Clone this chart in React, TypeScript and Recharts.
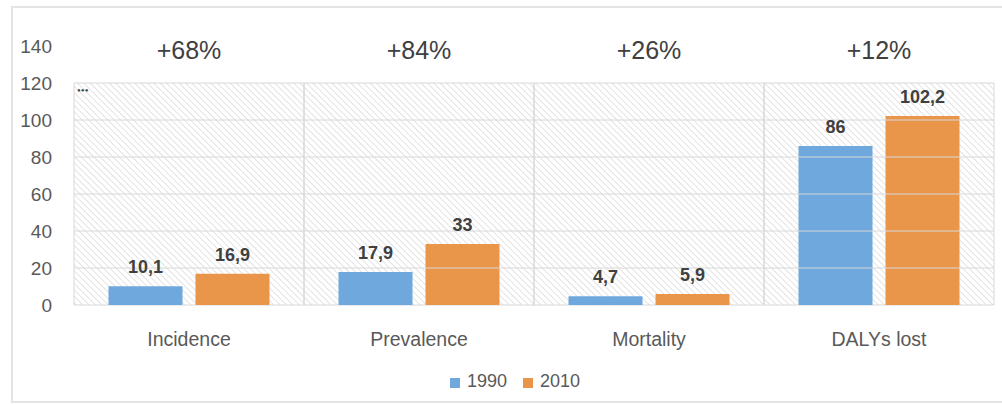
import React from 'react';
import {
  BarChart, Bar, XAxis, YAxis, Legend, LabelList, ReferenceArea, ReferenceLine, ReferenceDot,
} from 'recharts';

const categories = ['Incidence', 'Prevalence', 'Mortality', 'DALYs lost'];
const values1990 = [10.1, 17.9, 4.7, 86];
const values2010 = [16.9, 33, 5.9, 102.2];
const changes = ['+68%', '+84%', '+26%', '+12%'];
const yTicks = [0, 20, 40, 60, 80, 100, 120, 140];
const gridValues = [20, 40, 60, 80, 100];

const data = categories.map((name, i) => ({
  name,
  y1990: values1990[i],
  y2010: values2010[i],
}));

const SANS = '"Liberation Sans", Arial, sans-serif';

const comma = (v: any) => String(v).replace('.', ',');

const App: React.FC = () => {
  return (
    <div style={{ position: 'absolute', left: 0, top: 0, width: 1002, height: 405, background: '#fff' }}>
      <div
        style={{
          position: 'absolute', left: 11, top: 6, width: 995, height: 393,
          border: '2px solid #e4e4e4', borderRight: 'none',
        }}
      />
      <BarChart
        width={1002}
        height={405}
        data={data}
        margin={{ top: 46, right: 8, left: 0, bottom: 0 }}
        barCategoryGap="15%"
        barGap={13}
        style={{ position: 'absolute', left: 0, top: 0 }}
      >
        <defs>
          <pattern id="hatch" patternUnits="userSpaceOnUse" width="4.5" height="4.5" patternTransform="rotate(-45)">
            <line x1="0" y1="0" x2="0" y2="4.5" stroke="#dcdcdc" strokeWidth="1.6" />
          </pattern>
        </defs>
        <XAxis
          dataKey="name"
          axisLine={false}
          tickLine={false}
          tickSize={0}
          tickMargin={27}
          height={66}
          tick={{ fill: '#595959', fontSize: 19.5, fontFamily: SANS }}
        />
        <YAxis
          domain={[0, 140]}
          ticks={yTicks}
          interval={0}
          axisLine={false}
          tickLine={false}
          width={74}
          tickSize={0}
          tickMargin={22}
          tick={{ fill: '#595959', fontSize: 19, fontFamily: SANS }}
        />
        {categories.map((c, i) => (
          <ReferenceArea
            key={c}
            x1={c}
            x2={c}
            y1={0}
            y2={120}
            fill="url(#hatch)"
            fillOpacity={1}
            stroke="#d8d8d8"
            strokeWidth={1}
            label={i === 0 ? { value: '•••', position: 'insideTopLeft', offset: 3, fill: '#444', fontSize: 11 } : undefined}
          />
        ))}
        {gridValues.map((v) => (
          <ReferenceLine key={v} y={v} stroke="#d8d8d8" strokeWidth={1} />
        ))}
        {categories.map((c, i) => (
          <ReferenceDot
            key={'p' + c}
            x={c}
            y={138}
            r={0}
            fill="none"
            stroke="none"
            label={{ value: changes[i], position: 'center', fill: '#404040', fontSize: 25, fontFamily: SANS }}
          />
        ))}
        <Legend
          verticalAlign="bottom"
          iconType="square"
          iconSize={10}
          height={34}
          wrapperStyle={{ left: 26 }}
          formatter={(value: string) => (
            <span style={{ color: '#595959', fontSize: 18, fontFamily: SANS, marginLeft: 3, marginRight: 6 }}>{value}</span>
          )}
        />
        <Bar dataKey="y1990" name="1990" fill="#6FA8DC" isAnimationActive={false}>
          <LabelList
            dataKey="y1990"
            position="top"
            offset={13}
            formatter={comma}
            style={{ fill: '#404040', fontSize: 18, fontWeight: 'bold', fontFamily: SANS }}
          />
        </Bar>
        <Bar dataKey="y2010" name="2010" fill="#E9964B" isAnimationActive={false}>
          <LabelList
            dataKey="y2010"
            position="top"
            offset={13}
            formatter={comma}
            style={{ fill: '#404040', fontSize: 18, fontWeight: 'bold', fontFamily: SANS }}
          />
        </Bar>
      </BarChart>
    </div>
  );
};

export default App;
